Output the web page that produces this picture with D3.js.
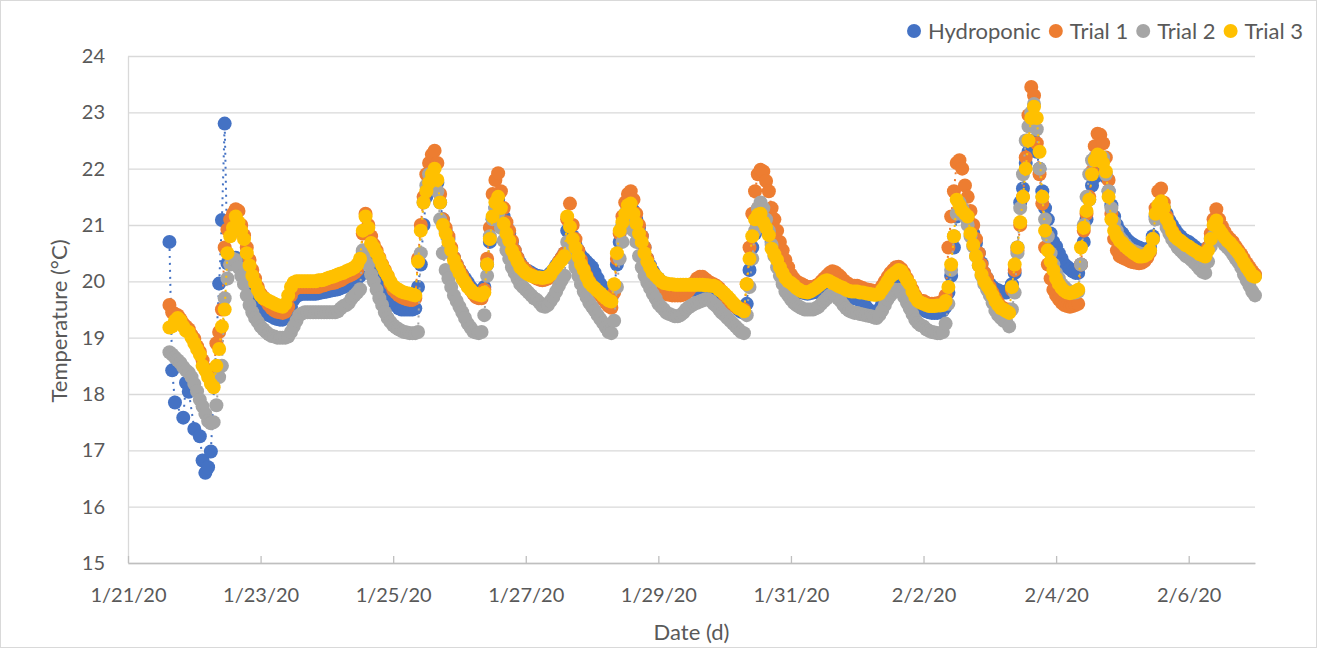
<!DOCTYPE html>
<html>
<head>
<meta charset="utf-8">
<script src="https://cdn.jsdelivr.net/npm/d3@7"></script>
<style>
  body { margin: 0; background: #ffffff; }
  text { font-family: Lato, "Open Sans", sans-serif; fill: #595959; }
</style>
</head>
<body>
<svg id="chart" width="1321" height="649"></svg>
<script>
// hourly readings, one row per calendar day starting 1/21/20.
// the first row starts at 14:00, every other row at 00:00
var firstDay = new Date(2020, 0, 21);
var firstHour = 14;

var seriesNames = ['Hydroponic', 'Trial 1', 'Trial 2', 'Trial 3'];
var seriesColors = ['#4472C4', '#ED7D31', '#A5A5A5', '#FFC000'];

var hydroponic = [
  [null, 20.7, 18.42, 17.85, null, null, 17.58, 18.2, 18.04, null],
  [17.38, null, 17.25, 16.82, 16.6, 16.7, 16.98, null, null, 19.96, 21.09, 22.8, 20.32, 20.35, 20.4, 20.42, 20.38, 20.3, 20.2, 20.05, 19.9, 19.78, 19.65, 19.55],
  [19.5, 19.45, 19.42, 19.4, 19.38, 19.35, 19.33, 19.32, 19.32, 19.35, 19.4, 19.55, 19.68, 19.74, 19.76, 19.78, 19.78, 19.78, 19.78, 19.78, 19.78, 19.79, 19.8, 19.81],
  [19.82, 19.83, 19.84, 19.85, 19.86, 19.88, 19.9, 19.92, 19.95, 19.98, 20.0, 20.05, 20.1, 20.52, 20.5, 20.45, 20.4, 20.3, 20.2, 20.1, 20.0, 19.9, 19.8, 19.7],
  [19.62, 19.57, 19.52, 19.5, 19.5, 19.5, 19.5, 19.5, 19.52, 19.9, 20.3, 21.0, 21.5, 21.7, 21.8, 21.8, 21.75, 21.4, 21.1, 20.9, 20.75, 20.58, 20.42, 20.3],
  [20.2, 20.12, 20.05, 19.98, 19.9, 19.85, 19.8, 19.77, 19.75, 19.9, 20.3, 20.7, 21.1, 21.3, 21.45, 21.3, 21.15, 21.0, 20.85, 20.7, 20.55, 20.42, 20.32, 20.25],
  [20.2, 20.18, 20.15, 20.12, 20.1, 20.09, 20.08, 20.08, 20.1, 20.15, 20.2, 20.28, 20.35, 20.42, 20.5, 20.9, 20.95, 20.8, 20.65, 20.55, 20.45, 20.4, 20.35, 20.3],
  [20.25, 20.15, 20.05, 19.95, 19.85, 19.78, 19.72, 19.7, 19.85, 20.3, 20.7, 21.0, 21.2, 21.3, 21.35, 21.25, 21.1, 20.95, 20.8, 20.6, 20.4, 20.28, 20.18, 20.1],
  [20.05, 20.0, 19.95, 19.92, 19.9, 19.89, 19.88, 19.87, 19.87, 19.86, 19.86, 19.85, 19.85, 19.85, 19.85, 19.85, 19.85, 19.85, 19.85, 19.84, 19.84, 19.82, 19.78, 19.75],
  [19.72, 19.68, 19.64, 19.6, 19.55, 19.5, 19.46, 19.44, 19.6, 20.2, 20.6, 20.85, 21.0, 21.05, 21.05, 20.95, 20.85, 20.7, 20.55, 20.45, 20.35, 20.22, 20.1, 20.02],
  [19.95, 19.9, 19.85, 19.82, 19.8, 19.79, 19.78, 19.79, 19.8, 19.81, 19.82, 19.85, 19.88, 19.9, 19.9, 19.9, 19.9, 19.88, 19.85, 19.82, 19.8, 19.76, 19.72, 19.7],
  [19.7, 19.66, 19.62, 19.56, 19.5, 19.46, 19.44, 19.45, 19.5, 19.6, 19.7, 19.82, 19.95, 20.02, 20.1, 20.08, 20.05, 19.96, 19.88, 19.8, 19.7, 19.62, 19.55, 19.52],
  [19.5, 19.47, 19.45, 19.44, 19.44, 19.44, 19.45, 19.48, 19.55, 19.8, 20.1, 20.6, 21.15, 21.2, 21.2, 21.15, 21.1, 20.98, 20.85, 20.68, 20.5, 20.32, 20.15, 20.05],
  [19.95, 19.9, 19.86, 19.84, 19.82, 19.8, 19.8, 19.85, 19.95, 20.15, 20.6, 21.4, 21.65, 22.1, 22.3, 22.45, 22.5, 22.3, 22.0, 21.6, 21.3, 21.1, 20.85, 20.7],
  [20.62, 20.5, 20.4, 20.3, 20.26, 20.22, 20.18, 20.15, 20.15, 20.3, 20.7, 21.1, 21.45, 21.7, 21.85, 21.95, 22.0, 21.95, 21.85, 21.6, 21.35, 21.15, 21.0, 20.9],
  [20.85, 20.78, 20.72, 20.68, 20.65, 20.62, 20.6, 20.58, 20.55, 20.55, 20.6, 20.8, 21.15, 21.3, 21.38, 21.3, 21.2, 21.08, 21.0, 20.92, 20.85, 20.8, 20.75, 20.72],
  [20.7, 20.66, 20.62, 20.58, 20.55, 20.52, 20.5, 20.6, 20.75, 20.9, 21.0, 20.95, 20.9, 20.82, 20.75, 20.7, 20.65, 20.58, 20.5, 20.42, 20.35, 20.28, 20.2, 20.15],
  [20.1]
];

var trial1 = [
  [null, 19.58, 19.45, 19.42, 19.4, 19.33, 19.25, 19.2, 19.15, 19.05],
  [18.98, 18.85, 18.75, 18.6, 18.45, 18.35, 18.25, 18.4, 18.9, 19.1, 19.5, 20.6, 20.92, 21.1, 21.2, 21.28, 21.25, 21.0, 20.82, 20.6, 20.38, 20.2, 20.05, 19.9],
  [19.78, 19.72, 19.65, 19.58, 19.52, 19.48, 19.46, 19.45, 19.44, 19.46, 19.55, 19.75, 19.85, 19.88, 19.9, 19.9, 19.9, 19.9, 19.9, 19.9, 19.9, 19.9, 19.92, 19.93],
  [19.95, 19.96, 19.97, 19.98, 20.0, 20.02, 20.05, 20.08, 20.1, 20.12, 20.15, 20.2, 20.3, 20.85, 21.2, 21.0, 20.8, 20.65, 20.55, 20.42, 20.3, 20.2, 20.1, 19.95],
  [19.85, 19.8, 19.75, 19.72, 19.7, 19.68, 19.67, 19.67, 19.7, 20.4, 21.0, 21.5, 21.9, 22.1, 22.25, 22.32, 22.1, 21.55, 21.1, 20.95, 20.8, 20.6, 20.42, 20.3],
  [20.2, 20.1, 20.0, 19.92, 19.85, 19.78, 19.72, 19.7, 19.7, 19.85, 20.4, 20.95, 21.55, 21.8, 21.92, 21.6, 21.3, 21.05, 20.9, 20.72, 20.55, 20.42, 20.3, 20.25],
  [20.2, 20.15, 20.12, 20.08, 20.05, 20.03, 20.02, 20.03, 20.05, 20.1, 20.15, 20.25, 20.35, 20.42, 20.5, 21.1, 21.38, 21.0, 20.75, 20.55, 20.38, 20.22, 20.1, 20.0],
  [19.9, 19.85, 19.8, 19.75, 19.68, 19.62, 19.56, 19.53, 19.8, 20.4, 20.85, 21.15, 21.4, 21.55, 21.6, 21.45, 21.2, 21.0, 20.8, 20.6, 20.4, 20.25, 20.15, 20.05],
  [19.95, 19.88, 19.8, 19.77, 19.76, 19.75, 19.75, 19.75, 19.75, 19.76, 19.78, 19.84, 19.9, 19.98, 20.05, 20.08, 20.08, 20.04, 20.0, 19.97, 19.95, 19.92, 19.88, 19.82],
  [19.75, 19.68, 19.62, 19.58, 19.55, 19.52, 19.5, 19.5, 19.95, 20.6, 21.2, 21.6, 21.9, 21.98, 21.95, 21.78, 21.6, 21.3, 21.1, 20.9, 20.7, 20.55, 20.38, 20.25],
  [20.12, 20.05, 20.0, 19.97, 19.95, 19.92, 19.9, 19.9, 19.9, 19.92, 19.95, 20.0, 20.05, 20.1, 20.15, 20.18, 20.16, 20.12, 20.08, 20.02, 19.98, 19.95, 19.92, 19.92],
  [19.92, 19.9, 19.88, 19.86, 19.85, 19.84, 19.82, 19.83, 19.85, 19.92, 20.0, 20.08, 20.15, 20.2, 20.25, 20.26, 20.22, 20.15, 20.05, 19.95, 19.85, 19.75, 19.68, 19.65],
  [19.65, 19.62, 19.6, 19.6, 19.6, 19.61, 19.62, 19.65, 19.75, 20.6, 21.15, 21.6, 22.1, 22.15, 22.0, 21.7, 21.5, 21.25, 21.0, 20.75, 20.5, 20.3, 20.15, 20.05],
  [19.9, 19.8, 19.7, 19.62, 19.55, 19.52, 19.5, 19.5, 19.85, 20.2, 20.55, 21.0, 21.5, 22.2, 22.95, 23.45, 23.3, 22.45, 21.9, 21.38, 20.6, 20.3, 20.05, 19.85],
  [19.75, 19.68, 19.62, 19.58, 19.56, 19.55, 19.56, 19.58, 19.6, 20.3, 20.9, 21.2, 21.5, 21.95, 22.4, 22.62, 22.6, 22.45, 22.2, 21.8, 21.2, 20.75, 20.55, 20.45],
  [20.42, 20.4, 20.38, 20.35, 20.34, 20.33, 20.32, 20.33, 20.36, 20.42, 20.52, 20.75, 21.3, 21.6, 21.65, 21.4, 21.15, 21.0, 20.9, 20.82, 20.75, 20.7, 20.65, 20.62],
  [20.6, 20.56, 20.52, 20.48, 20.45, 20.43, 20.42, 20.6, 20.85, 21.1, 21.28, 21.1, 20.98, 20.88, 20.8, 20.75, 20.7, 20.62, 20.55, 20.48, 20.4, 20.32, 20.25, 20.18],
  [20.12]
];

var trial2 = [
  [null, 18.74, 18.7, 18.65, 18.6, 18.55, 18.48, 18.42, 18.38, 18.3],
  [18.18, 18.05, 17.9, 17.78, 17.65, 17.52, 17.48, 17.5, 17.8, 18.3, 18.5, 19.7, 20.05, 20.3, 20.4, 20.38, 20.25, 20.1, 19.95, 19.75, 19.58, 19.45, 19.35, 19.28],
  [19.2, 19.15, 19.1, 19.06, 19.03, 19.02, 19.0, 19.0, 19.0, 19.0, 19.02, 19.1, 19.2, 19.3, 19.4, 19.43, 19.45, 19.45, 19.45, 19.45, 19.45, 19.45, 19.45, 19.45],
  [19.45, 19.45, 19.45, 19.45, 19.47, 19.52, 19.56, 19.58, 19.62, 19.7, 19.75, 19.8, 19.86, 20.55, 20.5, 20.3, 20.12, 20.0, 19.85, 19.7, 19.58, 19.45, 19.35, 19.28],
  [19.22, 19.18, 19.15, 19.12, 19.1, 19.09, 19.08, 19.08, 19.08, 19.1, 20.5, 21.4, 21.7, 21.9, 21.85, 21.7, 21.6, 21.1, 20.5, 20.2, 20.05, 19.9, 19.75, 19.65],
  [19.55, 19.45, 19.35, 19.25, 19.18, 19.11, 19.09, 19.08, 19.1, 19.4, 20.1, 20.8, 21.1, 21.3, 21.2, 20.95, 20.72, 20.55, 20.4, 20.25, 20.15, 20.05, 19.95, 19.9],
  [19.85, 19.8, 19.75, 19.7, 19.67, 19.62, 19.56, 19.55, 19.58, 19.65, 19.72, 19.82, 19.92, 20.02, 20.1, 20.7, 20.55, 20.4, 20.25, 20.1, 19.95, 19.82, 19.72, 19.62],
  [19.55, 19.48, 19.4, 19.33, 19.26, 19.18, 19.1, 19.08, 19.3, 19.9, 20.4, 20.7, 20.95, 21.15, 21.1, 20.9, 20.7, 20.45, 20.25, 20.1, 19.98, 19.88, 19.78, 19.7],
  [19.6, 19.55, 19.5, 19.44, 19.42, 19.4, 19.38, 19.38, 19.4, 19.44, 19.5, 19.54, 19.57, 19.6, 19.62, 19.64, 19.66, 19.68, 19.68, 19.65, 19.6, 19.56, 19.5, 19.44],
  [19.4, 19.35, 19.3, 19.25, 19.2, 19.15, 19.1, 19.08, 19.4, 19.9, 20.4, 20.9, 21.3, 21.4, 21.3, 21.1, 20.9, 20.65, 20.45, 20.25, 20.1, 19.95, 19.82, 19.75],
  [19.68, 19.62, 19.58, 19.55, 19.52, 19.5, 19.5, 19.5, 19.5, 19.52, 19.55, 19.6, 19.65, 19.7, 19.75, 19.78, 19.75, 19.7, 19.65, 19.58, 19.52, 19.48, 19.46, 19.44],
  [19.44, 19.42, 19.41, 19.4, 19.39, 19.38, 19.36, 19.35, 19.4, 19.48, 19.58, 19.68, 19.75, 19.8, 19.85, 19.85, 19.8, 19.72, 19.62, 19.52, 19.42, 19.32, 19.26, 19.22],
  [19.2, 19.15, 19.12, 19.1, 19.09, 19.08, 19.08, 19.1, 19.25, 19.6, 20.2, 20.8, 21.2, 21.4, 21.3, 21.15, 21.0, 20.8, 20.62, 20.45, 20.28, 20.1, 19.95, 19.85],
  [19.75, 19.62, 19.48, 19.4, 19.35, 19.3, 19.28, 19.2, 19.5, 19.8, 20.5, 21.3, 21.9, 22.5, 22.75, 23.0, 23.15, 22.7, 22.0, 21.5, 21.1, 20.8, 20.5, 20.3],
  [20.15, 20.05, 19.95, 19.9, 19.85, 19.82, 19.8, 19.8, 19.82, 20.3, 21.0, 21.5, 21.9, 22.15, 22.2, 22.22, 22.2, 22.2, 21.9, 21.6, 21.3, 21.05, 20.9, 20.78],
  [20.72, 20.66, 20.6, 20.56, 20.54, 20.52, 20.5, 20.48, 20.48, 20.5, 20.55, 20.75, 21.1, 21.22, 21.25, 21.1, 20.95, 20.85, 20.75, 20.68, 20.6, 20.55, 20.5, 20.45],
  [20.42, 20.38, 20.33, 20.28, 20.22, 20.17, 20.15, 20.35, 20.62, 20.8, 20.88, 20.8, 20.72, 20.65, 20.6, 20.55, 20.48, 20.4, 20.34, 20.25, 20.12, 20.02, 19.92, 19.82],
  [19.75]
];

var trial3 = [
  [null, 19.18, 19.2, 19.3, 19.35, 19.3, 19.2, 19.12, 19.1, 19.0],
  [18.9, 18.8, 18.7, 18.5, 18.42, 18.3, 18.18, 18.12, 18.5, 18.8, 19.2, 19.5, 20.5, 20.8, 20.95, 21.15, 21.05, 20.9, 20.75, 20.5, 20.28, 20.1, 19.97, 19.85],
  [19.75, 19.7, 19.68, 19.65, 19.63, 19.6, 19.58, 19.56, 19.55, 19.6, 19.75, 19.9, 19.98, 20.0, 20.0, 20.0, 20.0, 20.0, 20.0, 20.0, 20.0, 20.02, 20.02, 20.03],
  [20.05, 20.07, 20.08, 20.1, 20.12, 20.14, 20.15, 20.18, 20.2, 20.22, 20.25, 20.3, 20.4, 20.9, 21.15, 20.95, 20.68, 20.6, 20.5, 20.4, 20.28, 20.18, 20.1, 20.0],
  [19.92, 19.88, 19.85, 19.82, 19.8, 19.79, 19.78, 19.76, 19.75, 20.35, 20.9, 21.4, 21.6, 21.75, 21.9, 22.0, 21.8, 21.4, 21.0, 20.85, 20.7, 20.55, 20.38, 20.25],
  [20.15, 20.05, 19.98, 19.9, 19.85, 19.8, 19.78, 19.76, 19.75, 19.8, 20.3, 20.75, 21.15, 21.4, 21.5, 21.3, 21.02, 20.85, 20.72, 20.55, 20.45, 20.35, 20.25, 20.2],
  [20.15, 20.12, 20.1, 20.08, 20.07, 20.07, 20.06, 20.07, 20.08, 20.12, 20.2, 20.26, 20.32, 20.38, 20.45, 21.15, 20.97, 20.75, 20.6, 20.44, 20.3, 20.2, 20.08, 19.98],
  [19.92, 19.88, 19.83, 19.79, 19.74, 19.7, 19.66, 19.64, 19.95, 20.5, 20.9, 21.05, 21.2, 21.35, 21.38, 21.2, 21.03, 20.85, 20.7, 20.5, 20.35, 20.25, 20.15, 20.1],
  [20.05, 20.0, 19.97, 19.96, 19.95, 19.95, 19.94, 19.94, 19.94, 19.94, 19.94, 19.94, 19.94, 19.94, 19.94, 19.94, 19.94, 19.93, 19.93, 19.92, 19.92, 19.9, 19.85, 19.82],
  [19.78, 19.73, 19.68, 19.62, 19.57, 19.52, 19.5, 19.47, 19.95, 20.4, 20.8, 21.1, 21.18, 21.2, 21.05, 20.95, 20.82, 20.58, 20.48, 20.38, 20.25, 20.15, 20.06, 20.0],
  [19.97, 19.93, 19.88, 19.85, 19.82, 19.81, 19.8, 19.82, 19.85, 19.88, 19.92, 19.96, 20.0, 20.02, 20.0, 19.97, 19.95, 19.92, 19.9, 19.88, 19.85, 19.83, 19.82, 19.82],
  [19.82, 19.8, 19.8, 19.79, 19.78, 19.77, 19.76, 19.76, 19.78, 19.85, 19.92, 20.0, 20.08, 20.12, 20.16, 20.2, 20.18, 20.1, 20.02, 19.95, 19.82, 19.72, 19.65, 19.62],
  [19.6, 19.58, 19.56, 19.56, 19.56, 19.57, 19.57, 19.58, 19.65, 19.9, 20.3, 20.8, 21.45, 21.35, 21.25, 21.2, 21.15, 20.85, 20.65, 20.45, 20.28, 20.12, 20.0, 19.92],
  [19.85, 19.75, 19.65, 19.58, 19.52, 19.5, 19.47, 19.44, 19.9, 20.3, 20.6, 21.05, 21.5, 22.0, 22.5, 22.9, 23.1, 22.9, 22.3, 21.5, 20.9, 20.55, 20.35, 20.2],
  [20.05, 19.95, 19.88, 19.83, 19.8, 19.79, 19.8, 19.82, 19.85, 20.6, 20.95, 21.25, 21.45, 21.9, 22.15, 22.25, 22.22, 22.1, 21.95, 21.5, 21.1, 20.9, 20.8, 20.72],
  [20.68, 20.62, 20.58, 20.54, 20.5, 20.47, 20.44, 20.44, 20.45, 20.48, 20.55, 20.75, 21.2, 21.35, 21.42, 21.3, 21.1, 21.0, 20.88, 20.8, 20.75, 20.72, 20.68, 20.64],
  [20.62, 20.58, 20.55, 20.52, 20.48, 20.46, 20.44, 20.55, 20.75, 21.0, 21.08, 20.92, 20.85, 20.78, 20.72, 20.68, 20.62, 20.56, 20.5, 20.42, 20.33, 20.25, 20.18, 20.1],
  [20.08]
];

var xDomain = ['1/21/20', '2/7/20'];
var xTickLabels = ['1/21/20', '1/23/20', '1/25/20', '1/27/20', '1/29/20',
                   '1/31/20', '2/2/20', '2/4/20', '2/6/20'];
var yTicks = [15, 16, 17, 18, 19, 20, 21, 22, 23, 24];

var svg = d3.select('#chart');
var margin = {top: 56, right: 66, bottom: 86, left: 128}
  , width = +svg.attr('width') - margin.left - margin.right
  , height = +svg.attr('height') - margin.top - margin.bottom;

// chart border
svg.append('rect')
  .attr('x', 0.5)
  .attr('y', 0.5)
  .attr('width', 1316)
  .attr('height', 647)
  .style('fill', 'none')
  .style('stroke', '#d9d9d9');

var parseDate = d3.timeParse('%m/%d/%y');

var xScale = d3.scaleTime()
  .domain(xDomain.map(parseDate))
  .range([0, width]);

var yScale = d3.scaleLinear()
  .domain([yTicks[0], yTicks[yTicks.length - 1]])
  .range([height, 0]);

var g = svg.append('g')
  .attr('transform', 'translate(' + margin.left + ',' + margin.top + ')');

// y axis with the horizontal gridlines
var yAxis = g.append('g')
  .attr('class', 'y axis')
  .call(d3.axisLeft(yScale)
    .tickValues(yTicks)
    .tickSize(-width)
    .tickSizeOuter(0)
    .tickPadding(23));
yAxis.selectAll('.tick line')
  .style('stroke', '#d9d9d9')
  .style('stroke-width', 1.3);
yAxis.select('.domain').style('stroke', '#d9d9d9').style('stroke-width', 1.3);
yAxis.selectAll('.tick text').style('font-size', '20px').style('fill', '#595959');

// x axis, ticks point up into the plot
var xTickDates = xTickLabels.map(parseDate);
var xAxis = g.append('g')
  .attr('class', 'x axis')
  .attr('transform', 'translate(0,' + height + ')')
  .call(d3.axisBottom(xScale)
    .tickValues(xTickDates)
    .tickSize(-7)
    .tickSizeOuter(0)
    .tickPadding(25)
    .tickFormat(function(d, i) { return xTickLabels[i]; }));
xAxis.selectAll('.tick line').style('stroke', '#bfbfbf').style('stroke-width', 1.3);
xAxis.select('.domain').style('stroke', '#bfbfbf').style('stroke-width', 1.5);
xAxis.selectAll('.tick text').style('font-size', '20px').style('fill', '#595959');

// axis titles
svg.append('text')
  .text('Temperature (°C)')
  .attr('transform', 'translate(67,321) rotate(-90)')
  .attr('text-anchor', 'middle')
  .style('font-size', '22px');

svg.append('text')
  .text('Date (d)')
  .attr('x', margin.left + width / 2)
  .attr('y', 640)
  .attr('text-anchor', 'middle')
  .style('font-size', '22px');

// turn the day rows into {time, value} points, skipping missing readings
var toPoints = function(rows) {
  var pts = [];
  rows.forEach(function(row, r) {
    var day = d3.timeDay.offset(firstDay, r);
    var h0 = r === 0 ? firstHour : 0;
    row.forEach(function(v, j) {
      if (v == null) return;
      pts.push({time: d3.timeHour.offset(day, h0 + j), value: v});
    });
  });
  return pts;
};

var series = [hydroponic, trial1, trial2, trial3].map(function(rows, k) {
  return {name: seriesNames[k], color: seriesColors[k], points: toPoints(rows)};
});

var line = d3.line()
  .x(function(d) { return xScale(d.time); })
  .y(function(d) { return yScale(d.value); });

// each series: thin dotted connector, then the markers on top
series.forEach(function(s) {
  var sg = g.append('g').attr('class', 'series');
  sg.append('path')
    .datum(s.points)
    .attr('d', line)
    .style('fill', 'none')
    .style('stroke', s.color)
    .style('stroke-width', 2)
    .style('stroke-dasharray', '2,5');
  sg.selectAll('.dot')
    .data(s.points)
    .enter().append('circle')
      .attr('class', 'dot')
      .attr('cx', function(d) { return xScale(d.time); })
      .attr('cy', function(d) { return yScale(d.value); })
      .attr('r', 7)
      .style('fill', s.color);
});

// legend, right aligned at the top
var legend = svg.append('g').attr('class', 'legend');
var items = legend.selectAll('g')
  .data(series)
  .enter().append('g');
items.append('circle')
  .attr('r', 7)
  .attr('cx', 7)
  .attr('cy', 31)
  .style('fill', function(d) { return d.color; });
items.append('text')
  .text(function(d) { return d.name; })
  .attr('x', 21)
  .attr('y', 39)
  .style('font-size', '22px');

var widths = [];
items.each(function() { widths.push(this.getBBox().width); });
var gap = 8;
var cursor = 1303 - (d3.sum(widths) + gap * (widths.length - 1));
items.attr('transform', function(d, i) {
  var x = cursor;
  cursor += widths[i] + gap;
  return 'translate(' + x + ',0)';
});
</script>
</body>
</html>
